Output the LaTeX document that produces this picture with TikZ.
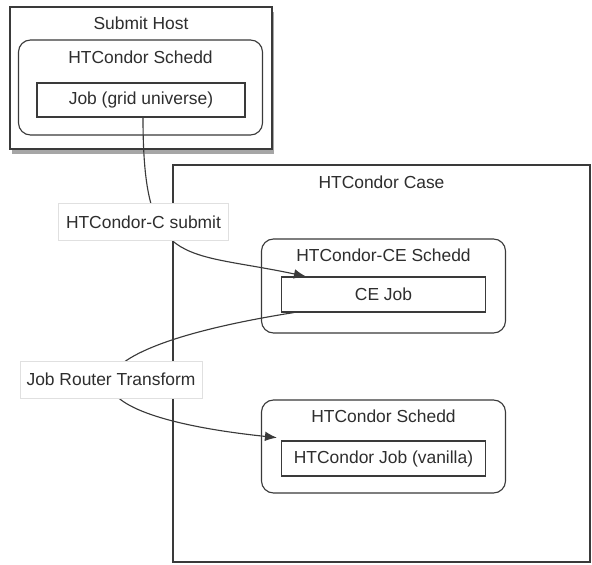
\documentclass[tikz,border=0pt]{standalone}
\usepackage{fontspec}
\setmainfont{Liberation Sans}
\usetikzlibrary{shapes,arrows.meta,positioning,shadows}
\definecolor{linegray}{HTML}{3A3A3A}
\definecolor{textgray}{HTML}{2E2E2E}

\begin{document}
\begin{tikzpicture}[
    font=\fontsize{12.4}{14}\selectfont,
    host/.style={rectangle, draw=linegray, line width=1.1pt, fill=white, inner sep=0pt},
    schedd/.style={rectangle, draw=linegray, line width=0.8pt, rounded corners=0.3cm, fill=white, minimum width=6.1cm, inner sep=0pt},
    job/.style={rectangle, draw=linegray, line width=0.8pt, fill=white, minimum width=5.1cm, minimum height=0.875cm, inner sep=0pt, text=textgray},
    title/.style={text=textgray, inner sep=0pt},
    edgelabel/.style={rectangle, draw=black!12, fill=white, text=textgray, minimum height=0.92cm, inner sep=0pt},
    arrow/.style={-{Latex[length=3mm, width=2.4mm]}, line width=0.8pt, draw=linegray}
]
\useasboundingbox (0,0) rectangle (14.8,-14.125);

% Submit host
\node[host, minimum width=6.55cm, minimum height=3.55cm, drop shadow={shadow xshift=0.4mm, shadow yshift=-1.3mm, opacity=0.7}] (host) at (3.525,-1.95) {};
\node[title] (hosttitle) at ([yshift=-0.425cm]host.north) {Submit Host};
\node[schedd, minimum height=2.375cm] (hostschedd) at (3.5125,-2.1875) {};
\node[title] (hostscheddtitle) at ([yshift=-0.45cm]hostschedd.north) {HTCondor Schedd};
\node[job, minimum width=5.2cm, minimum height=0.85cm] (gridjob) at (3.525,-2.5) {Job (grid universe)};

% HTCondor case
\node[host, minimum width=10.425cm, minimum height=9.925cm] (case) at (9.5375,-9.0875) {};
\node[title] (casetitle) at ([yshift=-0.45cm]case.north) {HTCondor Case};

% CE schedd
\node[schedd, minimum height=2.35cm] (ceschedd) at (9.5875,-7.15) {};
\node[title] (cescheddtitle) at ([yshift=-0.425cm]ceschedd.north) {HTCondor-CE Schedd};
\node[job] (cejob) at (9.5875,-7.3625) {CE Job};

% Local schedd
\node[schedd, minimum height=2.325cm] (vschedd) at (9.5875,-11.1625) {};
\node[title] (vscheddtitle) at ([yshift=-0.425cm]vschedd.north) {HTCondor Schedd};
\node[job] (vjob) at (9.5875,-11.4625) {HTCondor Job (vanilla)};

% Flow
\draw[arrow] ([xshift=0.05cm]gridjob.south) to[out=-90, in=168, out distance=3.8cm, in distance=3.2cm] ([xshift=0.625cm]cejob.north west);
\draw[arrow] ([xshift=0.325cm]cejob.south west) to[out=189, in=174, out distance=6.1cm, in distance=5.6cm] ([shift={(-0.1,0.07)}]vjob.north west);

% Labels on the flow
\node[edgelabel, minimum width=4.25cm] (submitlabel) at (3.5875,-5.55) {HTCondor-C submit};
\node[edgelabel, minimum width=4.55cm] (routerlabel) at (2.775,-9.4875) {Job Router Transform};

\end{tikzpicture}
\end{document}
